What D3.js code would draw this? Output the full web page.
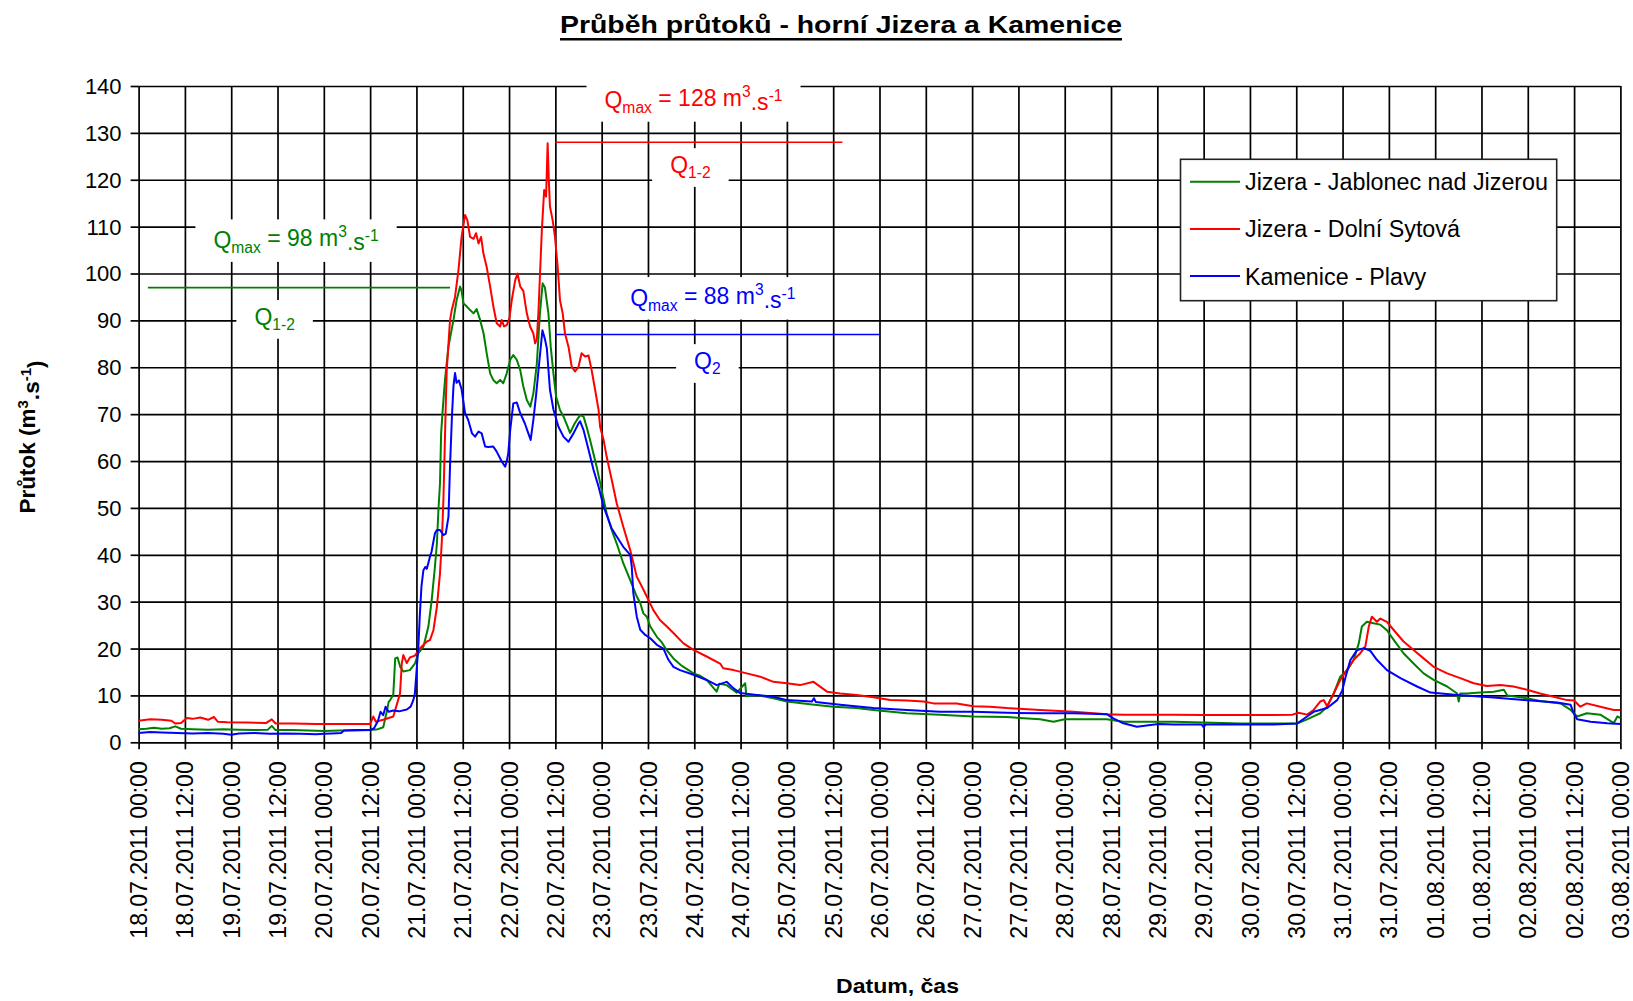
<!DOCTYPE html>
<html>
<head>
<meta charset="utf-8">
<script src="https://cdn.jsdelivr.net/npm/d3@7"></script>
<style>
  html, body { margin: 0; padding: 0; background: #ffffff; }
  svg { display: block; }
  text { font-family: "Liberation Sans", Arial, Helvetica, sans-serif; }
</style>
</head>
<body>
<svg id="chart" width="1633" height="1001"></svg>
<script>
// ---------------- DATA ----------------
const chartTitle = "Průběh průtoků - horní Jizera a Kamenice";
const xAxisTitle = "Datum, čas";
const startDate = new Date(2011, 6, 18, 0, 0);   // 18.07.2011 00:00
const endDate   = new Date(2011, 7, 3, 0, 0);    // 03.08.2011 00:00
const yTickValues = [0, 10, 20, 30, 40, 50, 60, 70, 80, 90, 100, 110, 120, 130, 140];

const seriesNames  = ["Jizera - Jablonec nad Jizerou", "Jizera - Dolní Sytová", "Kamenice - Plavy"];
const seriesColors = ["#008000", "#ff0000", "#0000ff"];

// hours after 18.07.2011 00:00 and flow [m3/s]
const jablonecHours = [0,2,4,6,8,9.5,11,14,18,22,26,30,33.5,34.5,35.5,40,44,48,52,56,60,62,63.4,64.3,64.8,65.2,66.0,66.5,67.1,67.8,68.6,70.3,71.6,72.5,73.8,75.1,75.96,76.8,77.3,77.7,78.1,78.4,78.8,79.4,80.3,81.6,82.4,83.3,83.7,84.2,85.0,85.9,86.8,87.6,88.5,89.4,90.2,91.1,91.9,92.8,93.7,94.5,95.4,96.3,97.1,98.0,98.9,99.7,100.6,101.5,102.3,103.2,104.0,104.7,105.3,106.2,106.8,107.5,108.2,109.2,110.1,111.0,111.8,113.0,114.4,115.3,116.2,117.0,118.7,120.0,121.3,122.6,123.9,125.6,127.4,129.1,130.0,130.8,131.7,132.6,134.3,135.6,136.9,138.6,140.5,141.2,143.8,145.5,147.2,149.8,150.5,152.4,155.0,157.2,157.5,160.2,164.5,168.0,174.0,180.0,186.0,190.4,199.1,207.7,216.3,225.0,233.6,237.1,240,250.9,255.2,264.3,268.2,276,285.5,294.1,300.2,302.8,306.2,308.0,309.7,311.4,313.2,314.9,316.2,317.0,318.3,320.0,321.8,323.5,325.3,327.8,330.4,333.0,335.6,339.1,341.7,342.1,342.5,344.2,347.7,351.2,353.8,354.7,359.0,363.2,368.5,371.1,372.8,375.3,378.8,382.3,383.2,384];
const jablonecFlow  = [2.8,2.9,3.1,2.9,3.0,3.4,2.9,2.8,2.7,2.8,2.7,2.6,2.7,3.5,2.6,2.6,2.5,2.4,2.5,2.5,2.6,2.8,3.2,6.5,8.6,9.0,10.2,17.9,18.1,16.1,15.1,15.4,16.8,19.0,20.4,24.7,30.4,37.5,42.4,49.6,55.2,65.9,70.9,77.3,84.4,90.1,94.3,97.2,96.3,93.6,93.0,92.2,91.5,92.4,90.1,87.2,83.0,78.7,77.3,76.6,77.3,76.6,78.7,81.6,82.6,81.6,79.4,75.9,73.0,71.6,74.4,80.8,91.5,97.9,97.0,91.5,84.4,78.7,73.7,70.9,69.5,67.7,66.0,68.0,69.8,69.5,67.0,64.5,58.8,53.8,48.8,45.3,42.4,38.2,34.6,31.1,29.7,27.5,26.8,24.7,22.5,21.3,19.6,17.9,16.5,16.1,14.7,14.2,13.3,10.8,12.5,12.2,10.6,12.6,9.8,10.1,9.4,8.7,8.1,7.6,7.3,6.9,6.2,5.9,5.5,5.4,4.9,4.4,4.9,4.9,4.4,4.4,4.4,4.2,4.0,4.0,4.0,4.9,6.2,7.6,10.4,14.0,15.4,17.6,21.1,24.7,25.7,25.4,25.1,23.9,21.8,19.0,16.8,14.7,13.3,11.9,10.4,8.7,10.4,10.4,10.6,10.8,11.2,10.0,9.5,8.8,8.3,6.9,5.5,6.2,5.9,4.1,5.5,5.2];

const sytovaHours = [0,3,6,8.5,9.5,11,12.5,14,16,18,19.5,20.5,23,28,33,34.5,35.5,40,46,52,56,60,60.8,61.5,63.4,66.0,66.5,67.0,67.75,68.2,68.6,69.5,70.3,71.6,72.9,74.7,75.5,76.4,77.3,78.1,78.6,79.0,79.3,79.6,79.85,80.7,81.15,82.0,82.9,83.7,84.6,85.2,85.9,86.8,87.45,88.1,88.75,89.35,90.2,91.1,91.95,92.8,93.7,94.1,94.7,95.4,96.1,96.7,97.6,98.2,98.9,99.7,100.6,101.45,102.3,102.75,103.2,103.6,104.5,105.1,105.6,106.0,106.3,106.6,107.3,107.9,108.6,109.2,109.9,110.5,111.4,112.25,113.1,114.0,114.8,115.7,116.6,117.4,118.3,119.2,119.6,120.5,121.3,122.6,123.9,125.6,127.4,129.1,130.0,131.7,133.4,135.1,136.9,138.6,141.2,143.8,147.2,150.7,151.5,154.2,157.6,161.1,164.5,168.0,171.4,174.9,178.4,181.8,186.1,190.4,194.8,199.1,203.4,206.0,212.0,216.3,220.6,225.0,229.3,233.6,242.3,250.9,255.2,264.3,268.2,276,285.5,294.1,299.0,300.6,302.8,304.5,306.2,307.1,308.0,309.7,311.4,313.1,314.9,316.6,317.9,318.8,319.6,320.9,321.8,323.5,325.3,327.8,330.4,333.0,335.6,339.1,342.5,346.0,349.4,352.9,356.3,359.8,363.2,366.7,370.2,372.0,373.6,375.3,378.8,382.3,384];
const sytovaFlow  = [4.6,4.9,4.8,4.6,4.0,4.1,5.2,5.0,5.3,4.8,5.4,4.4,4.3,4.2,4.1,4.9,4.0,4.0,3.9,3.9,3.9,3.9,5.5,4.4,4.8,5.5,6.9,8.3,10.4,16.8,18.6,16.9,18.1,18.5,20.0,21.5,21.8,23.9,28.9,36.0,43.2,52.0,62.0,72.0,79.4,90.0,92.2,95.0,100.8,107.8,112.5,111.4,107.8,107.4,108.6,106.4,107.8,104.3,101.4,97.2,92.9,89.4,88.7,90.1,88.7,89.0,90.5,94.3,98.6,100.0,97.2,96.3,91.5,88.7,87.2,85.1,86.0,91.5,109.3,117.8,116.4,127.8,120.0,114.3,111.4,107.8,101.4,94.3,91.5,87.2,84.4,80.1,79.1,80.1,83.0,82.3,82.5,79.4,75.2,70.9,67.3,64.5,60.9,56.0,51.0,46.0,41.0,35.3,33.9,31.1,28.2,26.1,24.7,23.3,21.1,19.7,18.3,16.8,15.8,15.4,14.7,14.0,12.9,12.6,12.2,12.9,10.8,10.4,10.1,9.6,9.0,8.9,8.7,8.3,8.3,7.7,7.6,7.3,7.1,6.9,6.5,6.0,5.9,5.9,5.9,5.8,5.8,5.8,5.9,6.3,5.9,6.9,8.7,9.0,7.7,10.4,13.3,15.4,17.6,19.0,20.4,24.7,26.8,25.7,26.4,25.7,23.9,21.5,19.7,17.9,16.1,14.7,13.7,12.6,12.0,12.2,11.9,11.2,10.4,9.7,9.0,8.9,7.6,8.3,7.6,6.9,6.9];

const plavyHours = [0,3,6,10,14,18,22,24,26,30,34,38,42,46,48,50,52.5,53.2,56,60,61,62,62.7,63.4,64.0,64.8,66.0,67.5,69.5,70.5,71.2,71.6,72.1,72.5,72.9,73.3,73.8,74.3,74.7,75.5,75.9,76.8,77.3,78.1,79.0,79.6,80.3,80.7,81.2,81.6,82.0,82.4,83.0,83.7,84.6,85.4,86.4,87.2,88.1,88.9,89.8,90.6,91.9,92.8,94.1,95.0,95.4,95.8,96.3,97.1,98.0,98.9,100.1,101.0,101.6,102.3,103.0,103.7,104.65,105.3,105.8,106.6,107.5,108.8,110.1,111.4,112.7,114.0,114.4,115.3,116.6,117.9,119.2,120.5,121.3,122.6,123.9,125.6,127.4,127.8,128.2,129.1,130.0,131.3,132.6,134.3,136.0,137.3,138.6,140.3,143.8,147.2,149.8,152.4,154.2,155.9,160.2,164.5,168.0,174.5,175.0,175.5,181.8,190.4,199.1,207.7,216.3,225.0,233.6,242.3,250.9,252.6,255.2,258.7,264.3,268.2,275.5,276.0,276.5,285.5,294.1,300.2,302.8,304.5,308.0,310.6,311.9,312.8,314.0,315.7,317.5,319.2,320.9,323.5,327.0,331.3,334.8,341.7,350.3,359.0,367.6,371.1,371.9,372.8,376.3,380.6,384];
const plavyFlow  = [2.0,2.2,2.1,2.0,1.9,2.0,1.8,1.6,1.9,2.0,1.8,1.9,1.8,1.7,1.8,1.9,2.0,2.5,2.6,2.6,3.0,4.5,6.5,5.8,7.6,6.5,6.8,6.6,7.0,7.6,9.0,10.4,16.0,20.4,27.5,33.2,36.7,37.4,37.0,39.6,40.6,44.6,45.3,45.3,44.2,44.5,48.1,58.8,69.5,76.0,78.8,76.7,77.2,75.3,70.2,68.8,65.9,65.2,66.3,65.9,63.1,63.0,63.1,62.0,59.9,58.8,59.9,61.7,66.6,72.3,72.5,70.2,68.0,65.9,64.5,68.8,74.0,80.0,87.9,86.0,84.0,75.2,71.0,67.3,65.2,64.1,65.9,68.0,68.5,66.6,62.4,58.1,54.5,50.3,48.5,45.6,43.9,41.7,40.0,37.5,31.8,26.8,24.0,22.9,22.2,20.8,20.0,17.6,16.1,15.4,14.4,13.3,12.2,12.9,11.5,10.5,10.1,9.7,9.0,8.7,9.4,8.6,8.0,7.3,6.9,6.5,6.5,6.3,6.2,6.2,6.0,5.1,4.05,3.3,3.9,3.8,3.8,3.2,3.8,3.8,3.8,4.0,5.5,6.5,7.3,9.0,11.0,14.0,17.5,19.6,20.1,19.5,17.6,15.4,13.7,11.9,10.6,10.1,9.6,9.0,8.5,8.0,6.2,4.9,4.4,4.05,3.9];

// Flood-level annotations (per series: green, red, blue)
const qmaxValues      = [98, 128, 88];
const limitSubscripts = ["1-2", "1-2", "2"];
const limitLevels     = [97, 128, 87];
const limitStartHours = [2.4, 108, 108];
const limitEndHours   = [80.7, 182.4, 192.1];
// label anchors (hour, flow value) for "Qmax" and "Q_x" labels
const qmaxLabelHours  = [40.8, 143.8, 148.8];
const qmaxLabelValues = [105.4, 135.3, 93.1];
const limitLabelHours = [35.25, 143.0, 147.4];
const limitLabelValues= [89.0, 121.4, 79.6];

// ---------------- CHART ----------------
const svg = d3.select("#chart");
const margin = { left: 138.6, right: 1620.4, top: 86, bottom: 742.3 };
const toDate = h => new Date(startDate.getTime() + h * 3600e3);

const x = d3.scaleTime().domain([startDate, endDate]).range([margin.left, margin.right]);
const y = d3.scaleLinear().domain([0, 140]).range([margin.bottom, margin.top]);
const xTicks = d3.timeHour.every(12).range(startDate, new Date(endDate.getTime() + 1));
const fmt = d3.timeFormat("%d.%m.%Y %H:%M");
const gridColor = "#000";
const gridW = 1.7;

// gridlines
const gy = svg.append("g").attr("transform", `translate(${margin.left},0)`)
  .call(d3.axisLeft(y).tickValues(yTickValues).tickSize(-(margin.right - margin.left)).tickFormat(""));
gy.select(".domain").remove();
gy.selectAll("line").attr("stroke", gridColor).attr("stroke-width", gridW);

const gx = svg.append("g").attr("transform", `translate(0,${margin.bottom})`)
  .call(d3.axisBottom(x).tickValues(xTicks).tickSize(-(margin.bottom - margin.top)).tickFormat(""));
gx.select(".domain").remove();
gx.selectAll("line").attr("stroke", gridColor).attr("stroke-width", gridW);

// tick marks + labels
const ay = svg.append("g").attr("transform", `translate(${margin.left},0)`)
  .call(d3.axisLeft(y).tickValues(yTickValues).tickSize(8).tickPadding(9));
ay.select(".domain").remove();
ay.selectAll("line").attr("stroke", gridColor).attr("stroke-width", gridW);
ay.selectAll("text").attr("font-size", 22).attr("fill", "#000")
  .attr("font-family", '"Liberation Sans", Arial, sans-serif').attr("dy", "0.34em");

const ax = svg.append("g").attr("transform", `translate(0,${margin.bottom})`)
  .call(d3.axisBottom(x).tickValues(xTicks).tickSize(7).tickFormat(fmt));
ax.select(".domain").remove();
ax.selectAll("line").attr("stroke", gridColor).attr("stroke-width", gridW);
ax.selectAll("text")
  .attr("font-size", 23).attr("fill", "#000")
  .attr("font-family", '"Liberation Sans", Arial, sans-serif')
  .attr("text-anchor", "end")
  .attr("y", 0).attr("x", 0).attr("dy", "0.35em")
  .attr("transform", "translate(0,19) rotate(-90)");

// threshold lines
limitLevels.forEach((lv, i) => {
  svg.append("line")
    .attr("x1", x(toDate(limitStartHours[i]))).attr("x2", x(toDate(limitEndHours[i])))
    .attr("y1", y(lv)).attr("y2", y(lv))
    .attr("stroke", seriesColors[i]).attr("stroke-width", 1.6);
});

// annotation labels with white background
const labelFont = 23;
function addLabel(i, cx, baseY, parts) {
  const g = svg.append("g");
  const rect = g.append("rect").attr("fill", "#fff");
  const t = g.append("text").attr("x", cx).attr("y", baseY)
    .attr("text-anchor", "middle").attr("font-size", labelFont).attr("fill", seriesColors[i]);
  parts.forEach(p => {
    const ts = t.append("tspan").text(p.t);
    if (p.sub) ts.attr("font-size", labelFont * 0.68).attr("dy", "0.3em");
    if (p.sup) ts.attr("font-size", labelFont * 0.68).attr("dy", "-0.55em");
    if (p.back) ts.attr("dy", p.back);
  });
  const bb = t.node().getBBox();
  rect.attr("x", bb.x - 18).attr("y", bb.y - 4).attr("width", bb.width + 36).attr("height", bb.height + 10);
}
qmaxValues.forEach((q, i) => {
  addLabel(i, x(toDate(qmaxLabelHours[i])), y(qmaxLabelValues[i]), [
    { t: "Q" }, { t: "max", sub: true }, { t: ` = ${q} m`, back: "-0.3em" },
    { t: "3", sup: true }, { t: ".s", back: "0.55em" }, { t: "-1", sup: true }
  ]);
  addLabel(i, x(toDate(limitLabelHours[i])), y(limitLabelValues[i]), [
    { t: "Q" }, { t: limitSubscripts[i], sub: true }
  ]);
});

// series
const seriesHours = [jablonecHours, sytovaHours, plavyHours];
const seriesFlows = [jablonecFlow, sytovaFlow, plavyFlow];
const line = d3.line().x(d => x(toDate(d[0]))).y(d => y(d[1]));
seriesHours.forEach((hs, i) => {
  const pts = hs.map((h, k) => [h, seriesFlows[i][k]]);
  svg.append("path").datum(pts).attr("d", line)
    .attr("fill", "none").attr("stroke", seriesColors[i]).attr("stroke-width", 2)
    .attr("stroke-linejoin", "round");
});

// legend
const lg = svg.append("g");
lg.append("rect").attr("x", 1180.5).attr("y", 159.3).attr("width", 376.2).attr("height", 141.4)
  .attr("fill", "#fff").attr("stroke", "#222").attr("stroke-width", 1.6);
seriesNames.forEach((n, i) => {
  const ly = 181.7 + i * 47.2;
  lg.append("line").attr("x1", 1190).attr("x2", 1240).attr("y1", ly).attr("y2", ly)
    .attr("stroke", seriesColors[i]).attr("stroke-width", 2);
  lg.append("text").attr("x", 1245).attr("y", ly + 8.5).attr("font-size", 23.3).attr("fill", "#000").text(n);
});

// title
svg.append("text").attr("x", 560).attr("y", 33).attr("font-size", 23).attr("font-weight", "bold")
  .attr("textLength", 562).attr("lengthAdjust", "spacingAndGlyphs").text(chartTitle);
svg.append("line").attr("x1", 560).attr("x2", 1122).attr("y1", 39.3).attr("y2", 39.3)
  .attr("stroke", "#000").attr("stroke-width", 2.4);

// axis titles
const yt = svg.append("text").attr("transform", "translate(35,437) rotate(-90)")
  .attr("text-anchor", "middle").attr("font-size", 22.5).attr("font-weight", "bold");
yt.append("tspan").text("Průtok (m");
yt.append("tspan").text("3").attr("font-size", 15).attr("dy", "-0.5em");
yt.append("tspan").text(".s").attr("dy", "0.5em");
yt.append("tspan").text("-1").attr("font-size", 15).attr("dy", "-0.5em");
yt.append("tspan").text(")").attr("dy", "0.5em");

svg.append("text").attr("x", 836).attr("y", 993).attr("font-size", 21).attr("font-weight", "bold")
  .attr("textLength", 123).attr("lengthAdjust", "spacingAndGlyphs").text(xAxisTitle);
</script>
</body>
</html>
